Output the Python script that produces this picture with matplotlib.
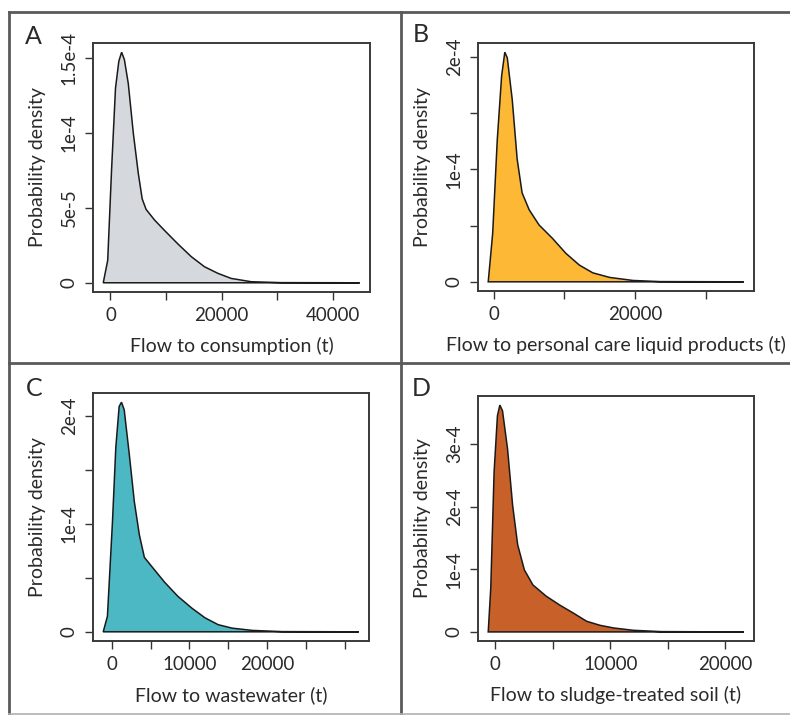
import matplotlib
matplotlib.use("Agg")
import matplotlib.pyplot as plt
from matplotlib.lines import Line2D

plt.rcParams["font.family"] = ["Lato", "DejaVu Sans"]

# Density curves (flow in tonnes, probability density)
cons_x = [-1300, -500, 200, 900, 1500, 2000, 2500, 3200, 4100, 5000, 5700, 6400, 7900,
          9700, 12100, 14500, 16900, 19300, 21700, 25300, 30600, 44800]
cons_y = [0, 1.5e-5, 7.6e-5, 1.30e-4, 1.48e-4, 1.54e-4, 1.49e-4, 1.33e-4, 1.00e-4, 7.3e-5,
          5.6e-5, 4.9e-5, 4.2e-5, 3.5e-5, 2.6e-5, 1.75e-5, 1.07e-5, 6.3e-6, 2.9e-6, 7e-7, 1e-7, 0]

pcare_x = [-800, -170, 480, 1100, 1550, 1900, 2600, 3300, 4000, 5000, 6400, 8300, 10200,
           12100, 14000, 16400, 19700, 23500, 35400]
pcare_y = [0, 4.3e-5, 1.26e-4, 1.83e-4, 2.04e-4, 1.99e-4, 1.62e-4, 1.09e-4, 7.9e-5, 6.4e-5,
           5.05e-5, 3.86e-5, 2.53e-5, 1.49e-5, 8.0e-6, 3.9e-6, 1.2e-6, 2e-7, 0]

waste_x = [-1100, -560, 90, 520, 950, 1250, 1600, 2250, 2900, 3550, 4200, 5100, 6800, 8500,
           10300, 12000, 13700, 15500, 18100, 21900, 31800]
waste_y = [0, 1.44e-5, 1.02e-4, 1.71e-4, 2.09e-4, 2.13e-4, 2.06e-4, 1.65e-4, 1.21e-4, 9.0e-5,
           6.9e-5, 6.1e-5, 4.6e-5, 3.3e-5, 2.2e-5, 1.3e-5, 6.6e-6, 3.4e-6, 1.3e-6, 2e-7, 0]

sludge_x = [-600, -380, -90, 200, 410, 640, 1080, 1520, 1960, 2540, 3280, 4440, 5600, 6800,
            7950, 9100, 10300, 12000, 14400, 21600]
sludge_y = [0, 7.0e-5, 2.55e-4, 3.45e-4, 3.62e-4, 3.53e-4, 2.92e-4, 2.02e-4, 1.39e-4, 9.9e-5,
            7.5e-5, 5.7e-5, 4.3e-5, 3.0e-5, 1.7e-5, 1.06e-5, 6.3e-6, 2.6e-6, 5e-7, 0]

panel_letters = ["A", "B", "C", "D"]
x_labels = ["Flow to consumption (t)", "Flow to personal care liquid products (t)",
            "Flow to wastewater (t)", "Flow to sludge-treated soil (t)"]
fill_colors = ["#d5d8dc", "#fdb935", "#4cb8c4", "#c8602a"]

x_ticks = [[0, 10000, 20000, 30000, 40000], [0, 10000, 20000, 30000],
           [0, 5000, 10000, 15000, 20000, 25000, 30000], [0, 5000, 10000, 15000, 20000]]
x_tick_labels = [["0", "", "20000", "", "40000"], ["0", "", "20000", ""],
                 ["0", "", "10000", "", "20000", "", ""], ["0", "", "10000", "", "20000"]]
y_ticks = [[0, 5e-5, 1e-4, 1.5e-4], [0, 5e-5, 1e-4, 1.5e-4, 2e-4],
           [0, 5e-5, 1e-4, 1.5e-4, 2e-4], [0, 1e-4, 2e-4, 3e-4]]
y_tick_labels = [["0", "5e-5", "1e-4", "1.5e-4"], ["0", "", "1e-4", "", "2e-4"],
                 ["0", "", "1e-4", "", "2e-4"], ["0", "1e-4", "2e-4", "3e-4"]]

curves = [(cons_x, cons_y), (pcare_x, pcare_y), (waste_x, waste_y), (sludge_x, sludge_y)]

W, H = 790, 715
fig = plt.figure(figsize=(W / 100, H / 100), dpi=100)

# axes boxes in pixels: left, top, right, bottom
boxes = [(93, 43, 370, 292), (478, 43, 754, 291), (93, 393, 369, 641), (478, 396, 754, 641)]
letter_pos = [(33, 37), (421, 35), (34, 389), (421, 389)]

txt = "#2a2a2a"
for i in range(4):
    l, t, r, b = boxes[i]
    ax = fig.add_axes([l / W, 1 - b / H, (r - l) / W, (b - t) / H])
    xs, ys = curves[i]
    ax.fill(xs, ys, facecolor=fill_colors[i], edgecolor="#1a1a1a", linewidth=1.1)
    # R-style 4% padding around the data range
    xr = max(xs) - min(xs)
    ax.set_xlim(min(xs) - 0.04 * xr, max(xs) + 0.04 * xr)
    yr = max(ys)
    ax.set_ylim(-0.04 * yr, yr * 1.04)
    ax.set_xticks(x_ticks[i])
    ax.set_xticklabels(x_tick_labels[i])
    ax.set_yticks(y_ticks[i])
    ax.set_yticklabels(y_tick_labels[i], rotation=90, va="center")
    ax.tick_params(axis="both", direction="out", length=6, width=1.0, color="#333333",
                   labelsize=13.5, labelcolor=txt, pad=5)
    for s in ax.spines.values():
        s.set_linewidth(1.4)
        s.set_color("#3a3a3a")
    ax.set_xlabel(x_labels[i], fontsize=14, color=txt)
    ax.xaxis.set_label_coords(0.5, -45 / (b - t))
    ax.set_ylabel("Probability density", fontsize=14, color=txt)
    ax.yaxis.set_label_coords(-47 / (r - l), 0.5)
    fig.text(letter_pos[i][0] / W, 1 - letter_pos[i][1] / H, panel_letters[i],
             fontsize=18, color=txt, ha="center", va="center")

# panel frame lines
frame = "#5a5a5a"
def fline(x0, y0, x1, y1, lw=2.0, c=frame):
    fig.add_artist(Line2D([x0 / W, x1 / W], [1 - y0 / H, 1 - y1 / H], color=c, linewidth=lw,
                          transform=fig.transFigure))

fline(9, 12, 790, 12)
fline(9, 12, 9, 714)
fline(401, 12, 401, 714)
fline(9, 363, 790, 363)
fline(9, 714, 790, 714, lw=1.2, c="#b0b0b0")

fig.savefig("out.png", dpi=100)
